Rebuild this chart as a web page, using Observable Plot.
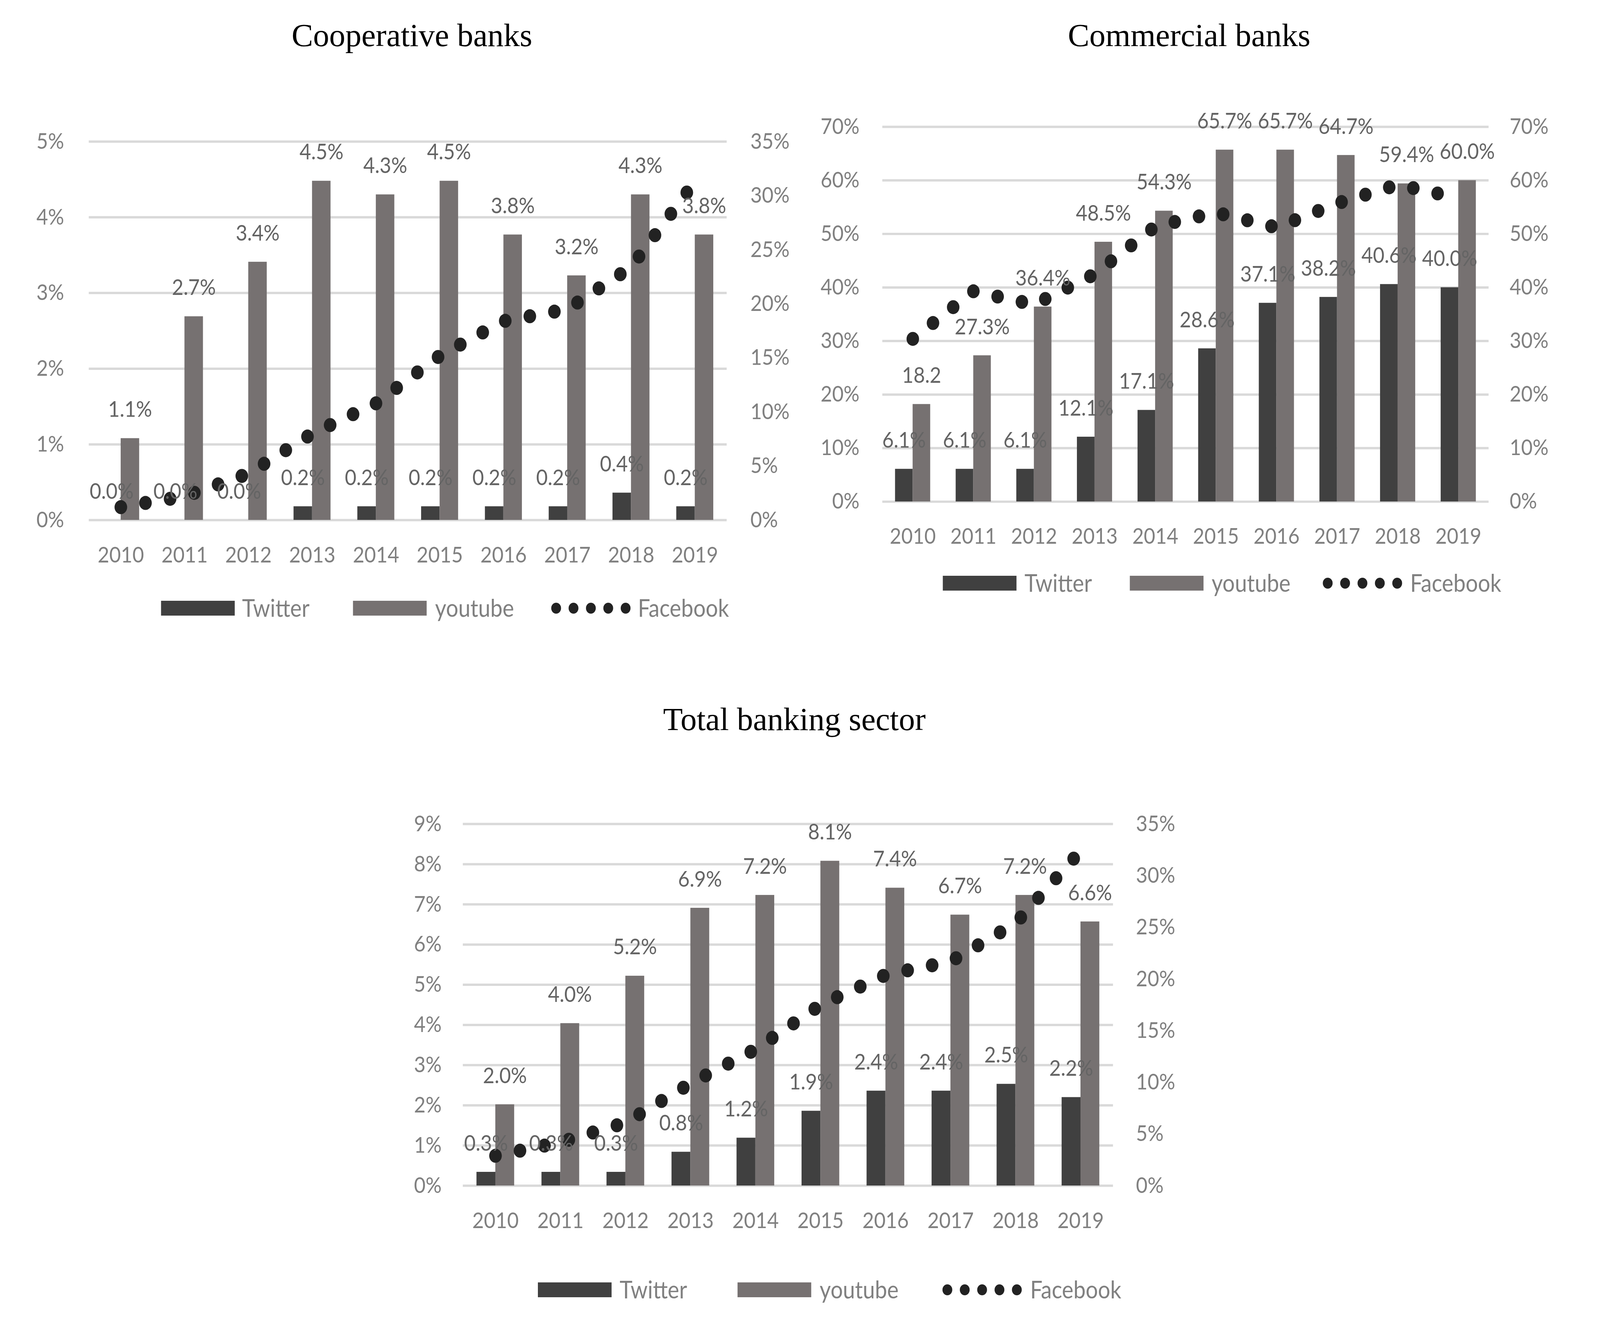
<!DOCTYPE html>
<html>
<head>
<meta charset="utf-8">
<script src="https://cdn.jsdelivr.net/npm/d3@7"></script>
<script src="https://cdn.jsdelivr.net/npm/@observablehq/plot@0.6"></script>
<style>
  html, body { margin: 0; padding: 0; background: #fff; width: 100vw; height: 100vh; overflow: hidden; }
  #page { position: absolute; left: 0; top: 0; width: 4560px; height: 3410px; overflow: hidden; background: #fff; transform-origin: 0 0; }
  .chart { position: absolute; }
  #overlay { position: absolute; left: 0; top: 0; }
</style>
</head>
<body>
<div id="page"></div>
<script>
// ---------- data ----------
const years = [2010, 2011, 2012, 2013, 2014, 2015, 2016, 2017, 2018, 2019];
const seriesNames = ["Twitter", "youtube", "Facebook"];

// Cooperative banks
const coopTwitter  = [0.0, 0.0, 0.0, 0.18, 0.18, 0.18, 0.18, 0.18, 0.36, 0.18];
const coopYoutube  = [1.08, 2.69, 3.41, 4.48, 4.30, 4.48, 3.77, 3.23, 4.30, 3.77];
const coopFacebook = [1.2, 2.2, 4.3, 8.0, 10.8, 15.2, 18.4, 19.5, 23.4, 31.3];
const coopLeftTicks  = [0, 1, 2, 3, 4, 5];
const coopRightTicks = [0, 5, 10, 15, 20, 25, 30, 35];

// Commercial banks
const comTwitter  = [6.1, 6.1, 6.1, 12.1, 17.1, 28.6, 37.1, 38.2, 40.6, 40.0];
const comYoutube  = [18.2, 27.3, 36.4, 48.5, 54.3, 65.7, 65.7, 64.7, 59.4, 60.0];
const comYoutubeLabels = ["18.2", "27.3%", "36.4%", "48.5%", "54.3%", "65.7%", "65.7%", "64.7%", "59.4%", "60.0%"];
const comFacebook = [30.4, 39.3, 36.8, 42.5, 51.4, 54.0, 51.2, 55.7, 59.2, 56.7];
const comLeftTicks  = [0, 10, 20, 30, 40, 50, 60, 70];
const comRightTicks = [0, 10, 20, 30, 40, 50, 60, 70];

// Total banking sector
const totTwitter  = [0.34, 0.34, 0.34, 0.84, 1.19, 1.86, 2.36, 2.36, 2.53, 2.20];
const totYoutube  = [2.02, 4.04, 5.22, 6.91, 7.23, 8.08, 7.41, 6.74, 7.23, 6.57];
const totFacebook = [2.9, 4.2, 6.1, 9.9, 13.2, 17.5, 20.4, 21.7, 25.4, 32.4];
const totLeftTicks  = [0, 1, 2, 3, 4, 5, 6, 7, 8, 9];
const totRightTicks = [0, 5, 10, 15, 20, 25, 30, 35];

// ---------- style ----------
const C_TW = "#404040", C_YT = "#767171", C_FB = "#222222";
const C_TICK = "#808080", C_LABEL = "#646464", C_GRID = "#d9d9d9";
const FONT = "Lato, 'Open Sans', sans-serif";
const FS = 57;
const FS_LEG = 62;
const BAR_W = 0.29;            // bar width in category units
const fmt = v => v.toFixed(1) + "%";

const page = document.getElementById("page");
function fit() {
  const sx = window.innerWidth / 4560;
  const sy = window.innerHeight / 3410;
  page.style.transform = `scale(${sx}, ${sy})`;
}
fit();
window.addEventListener("resize", fit);

function drawChart(cfg) {
  const {tw, yt, fb, ytLabels, leftTicks, rightTicks, box, padL, padR} = cfg;
  const leftMax = leftTicks[leftTicks.length - 1];
  const rightMax = rightTicks[rightTicks.length - 1];
  const k = leftMax / rightMax;     // secondary axis -> primary axis
  const data = years.map((year, i) => ({
    year, tw: tw[i], yt: yt[i], fb: fb[i] * k,
    twLabel: fmt(tw[i]),
    ytLabel: ytLabels ? ytLabels[i] : fmt(yt[i])
  }));
  const ML = 320, MR = 320, MT = 240, MB = 220;
  const pw = box.right - box.left, ph = box.bottom - box.top;
  const svg = Plot.plot({
    width: pw + ML + MR,
    height: ph + MT + MB,
    marginLeft: ML, marginRight: MR, marginTop: MT, marginBottom: MB,
    style: {fontFamily: FONT, fontSize: FS + "px", background: "transparent", overflow: "visible"},
    x: {type: "linear", domain: [2009.5, 2019.5]},
    y: {domain: [0, leftMax]},
    marks: [
      Plot.ruleY(leftTicks, {stroke: C_GRID, strokeWidth: 6}),
      Plot.axisY(leftTicks, {anchor: "left", tickSize: 0, tickPadding: padL, tickFormat: d => d + "%",
        color: C_TICK, fontSize: FS, fontFamily: FONT, label: null}),
      Plot.axisY(rightTicks.map(v => v * k), {anchor: "right", tickSize: 0, tickPadding: padR,
        tickFormat: d => Math.round(d / k) + "%", color: C_TICK, fontSize: FS, fontFamily: FONT, label: null}),
      Plot.axisX(years, {anchor: "bottom", tickSize: 0, tickPadding: 68, tickFormat: d => String(d),
        color: C_TICK, fontSize: FS, fontFamily: FONT, label: null}),
      Plot.rectY(data, {x1: d => d.year - BAR_W, x2: d => d.year, y: "tw", fill: C_TW}),
      Plot.rectY(data, {x1: d => d.year, x2: d => d.year + BAR_W, y: "yt", fill: C_YT}),
      Plot.line(data, {x: "year", y: "fb", stroke: C_FB, strokeWidth: 36,
        strokeDasharray: "0 71", strokeLinecap: "round", strokeLinejoin: "round"}),
      Plot.text(data, {x: d => d.year - BAR_W / 2, y: "tw", text: "twLabel", dy: -55, lineAnchor: "bottom",
        fill: C_LABEL, fontSize: FS, fontFamily: FONT}),
      Plot.text(data, {x: d => d.year + BAR_W / 2, y: "yt", text: "ytLabel", dy: -55, lineAnchor: "bottom",
        fill: C_LABEL, fontSize: FS, fontFamily: FONT})
    ]
  });
  const wrap = document.createElement("div");
  wrap.className = "chart";
  wrap.style.left = (box.left - ML) + "px";
  wrap.style.top = (box.top - MT) + "px";
  wrap.appendChild(svg);
  page.appendChild(wrap);
}

drawChart({tw: coopTwitter, yt: coopYoutube, fb: coopFacebook, leftTicks: coopLeftTicks, rightTicks: coopRightTicks,
  box: {left: 253, right: 2071, top: 362, bottom: 1331}, padL: 71, padR: 67});
drawChart({tw: comTwitter, yt: comYoutube, fb: comFacebook, ytLabels: comYoutubeLabels, leftTicks: comLeftTicks,
  rightTicks: comRightTicks, box: {left: 2517, right: 4258, top: 326, bottom: 1293}, padL: 66, padR: 60});
drawChart({tw: totTwitter, yt: totYoutube, fb: totFacebook, leftTicks: totLeftTicks, rightTicks: totRightTicks,
  box: {left: 1319, right: 3172, top: 2109, bottom: 3035}, padL: 61, padR: 65});

// ---------- titles and legends ----------
const titles = [
  {text: "Cooperative banks", cx: 1174, base: 118},
  {text: "Commercial banks", cx: 3389, base: 118},
  {text: "Total banking sector", cx: 2264, base: 1869}
];
const legends = [
  {cy: 1557, sw1: 459, t1: 690, sw2: 1006, t2: 1240, dot0: 1585, t3: 1818},
  {cy: 1493, sw1: 2687, t1: 2920, sw2: 3220, t2: 3453, dot0: 3784, t3: 4019},
  {cy: 3302, sw1: 1533, t1: 1766, sw2: 2102, t2: 2336, dot0: 2700, t3: 2936}
];
const NS = "http://www.w3.org/2000/svg";
const ov = document.createElementNS(NS, "svg");
ov.setAttribute("id", "overlay");
ov.setAttribute("width", 4560);
ov.setAttribute("height", 3410);
function el(tag, attrs, txt) {
  const e = document.createElementNS(NS, tag);
  for (const [a, v] of Object.entries(attrs)) e.setAttribute(a, v);
  if (txt != null) e.textContent = txt;
  ov.appendChild(e);
  return e;
}
for (const t of titles) {
  el("text", {x: 0, y: 0, "text-anchor": "middle", "font-family": "'Liberation Serif', 'Times New Roman', serif",
    "font-size": 82, fill: "#000", transform: `translate(${t.cx},${t.base}) scale(1.12,1)`}, t.text);
}
for (const L of legends) {
  const swH = 38, swW = 210;
  el("rect", {x: L.sw1, y: L.cy - swH / 2, width: swW, height: swH, fill: C_TW});
  el("rect", {x: L.sw2, y: L.cy - swH / 2, width: swW, height: swH, fill: C_YT});
  el("line", {x1: L.dot0, x2: L.dot0 + 4 * 49.5 + 1, y1: L.cy, y2: L.cy, stroke: C_FB, "stroke-width": 28,
    "stroke-dasharray": "0 49.5", "stroke-linecap": "round"});
  const txtAttrs = {"font-family": FONT, "font-size": FS_LEG, fill: C_TICK};
  el("text", {...txtAttrs, x: L.t1, y: L.cy + 22}, seriesNames[0]);
  el("text", {...txtAttrs, x: L.t2, y: L.cy + 22}, seriesNames[1]);
  el("text", {...txtAttrs, x: L.t3, y: L.cy + 22}, seriesNames[2]);
}
page.appendChild(ov);
</script>
</body>
</html>
